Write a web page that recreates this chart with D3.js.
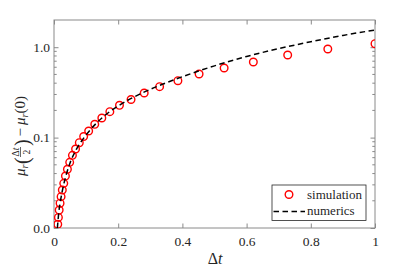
<!DOCTYPE html>
<html>
<head>
<meta charset="utf-8">
<script src="https://cdn.jsdelivr.net/npm/d3@7"></script>
<style>
  body { margin: 0; background: #fff; }
  svg text { fill: #262626; }
</style>
</head>
<body>
<div id="container"></div>
<script>
// data
let simT = [0.0117, 0.0137, 0.0161, 0.0189, 0.0221, 0.0259, 0.0304, 0.0356, 0.0418, 0.0489,
  0.0574, 0.0672, 0.0788, 0.0924, 0.108, 0.127, 0.149, 0.174, 0.204, 0.240,
  0.281, 0.329, 0.386, 0.452, 0.530, 0.621, 0.728, 0.853, 1.0];
let simValues = [0.0110, 0.0131, 0.0158, 0.0188, 0.0222, 0.0263, 0.0312, 0.0376, 0.0446, 0.0533,
  0.0637, 0.0748, 0.0878, 0.1029, 0.1183, 0.1404, 0.1648, 0.1935, 0.2277, 0.2640,
  0.3115, 0.3658, 0.4260, 0.5054, 0.5888, 0.6860, 0.8202, 0.9554, 1.0935];

let numT = [0.0105, 0.015, 0.02, 0.03, 0.04, 0.05, 0.07, 0.1, 0.15, 0.2, 0.25,
  0.3, 0.35, 0.4, 0.45, 0.5, 0.55, 0.6, 0.7, 0.8, 0.9, 1.0];
let numValues = [0.0100, 0.0150, 0.0198, 0.0300, 0.0410, 0.0525, 0.0745, 0.107, 0.166, 0.224, 0.282,
  0.342, 0.405, 0.472, 0.545, 0.622, 0.705, 0.790, 0.965, 1.15, 1.35, 1.55];

let xTicks = [0, 0.2, 0.4, 0.6, 0.8, 1];
let xTickLabels = ["0", "0.2", "0.4", "0.6", "0.8", "1"];
let yTicks = [0.01, 0.1, 1];
let yTickLabels = ["0.0", "0.1", "1.0"];
let yMinorTicks = [0.02, 0.03, 0.04, 0.05, 0.06, 0.07, 0.08, 0.09,
  0.2, 0.3, 0.4, 0.5, 0.6, 0.7, 0.8, 0.9];
let legendNames = ["simulation", "numerics"];

// layout
let w = 415;
let h = 270;
let padLeft = 54, padRight = 375, padTop = 20, padBottom = 228;
let axisColor = "#8a8a8a";
let serif = "Liberation Serif";

let viz = d3.select("#container")
  .append("svg")
    .attr("width", w)
    .attr("height", h)
    .style("display", "block")
;

let xScale = d3.scaleLinear().domain([0, 1]).range([padLeft, padRight]);
let yScale = d3.scaleLog().domain([0.01, 2]).range([padBottom, padTop]);

// clip for the data
viz.append("clipPath").attr("id", "plotclip")
  .append("rect")
    .attr("x", padLeft).attr("y", padTop)
    .attr("width", padRight - padLeft).attr("height", padBottom - padTop);

// axes (ticks point inward)
let xAxisGroup = viz.append("g").attr("transform", "translate(0," + padBottom + ")");
xAxisGroup.call(d3.axisBottom(xScale).tickValues(xTicks)
  .tickFormat(function(d, i){ return xTickLabels[i]; })
  .tickSizeInner(-4.5).tickSizeOuter(0).tickPadding(0));
let xTopGroup = viz.append("g").attr("transform", "translate(0," + padTop + ")");
xTopGroup.call(d3.axisTop(xScale).tickValues(xTicks).tickFormat("")
  .tickSizeInner(-4.5).tickSizeOuter(0));

let yAxisGroup = viz.append("g").attr("transform", "translate(" + padLeft + ",0)");
yAxisGroup.call(d3.axisLeft(yScale).tickValues(yTicks)
  .tickFormat(function(d, i){ return yTickLabels[i]; })
  .tickSizeInner(-4.5).tickSizeOuter(0).tickPadding(0));
let yRightGroup = viz.append("g").attr("transform", "translate(" + padRight + ",0)");
yRightGroup.call(d3.axisRight(yScale).tickValues(yTicks).tickFormat("")
  .tickSizeInner(-4.5).tickSizeOuter(0));

// minor y ticks on both sides
yAxisGroup.selectAll(".minor").data(yMinorTicks).enter()
  .append("line").attr("class", "minor")
    .attr("x1", 0).attr("x2", 2.7)
    .attr("y1", function(d){ return yScale(d); })
    .attr("y2", function(d){ return yScale(d); });
yRightGroup.selectAll(".minor").data(yMinorTicks).enter()
  .append("line").attr("class", "minor")
    .attr("x1", 0).attr("x2", -2.7)
    .attr("y1", function(d){ return yScale(d); })
    .attr("y2", function(d){ return yScale(d); });

viz.selectAll(".domain").remove();
viz.selectAll(".tick line, line.minor").attr("stroke", axisColor).attr("stroke-width", 1);
viz.selectAll("g").attr("font-family", serif);

xAxisGroup.selectAll("text")
  .attr("y", 18).attr("dy", 0)
  .attr("font-size", 13.5).attr("fill", "#262626");
yAxisGroup.selectAll("text")
  .attr("x", -4).attr("dy", "0.32em")
  .attr("font-size", 13.5).attr("fill", "#262626");

// box
viz.append("rect")
  .attr("x", padLeft).attr("y", padTop)
  .attr("width", padRight - padLeft).attr("height", padBottom - padTop)
  .attr("fill", "none").attr("stroke", axisColor).attr("stroke-width", 1);

// simulation circles
let simData = simT.map(function(t, i){ return { t: t, v: simValues[i] }; });
let numData = numT.map(function(t, i){ return { t: t, v: numValues[i] }; });

let graphgroup = viz.append("g").attr("clip-path", "url(#plotclip)");
graphgroup.selectAll(".datapoint").data(simData).enter()
  .append("circle")
    .attr("class", "datapoint")
    .attr("cx", function(d){ return xScale(d.t); })
    .attr("cy", function(d){ return yScale(d.v); })
    .attr("r", 3.8)
    .attr("fill", "none")
    .attr("stroke", "#ff0000")
    .attr("stroke-width", 1.4)
;

// numerics line
let line = d3.line()
  .x(function(d){ return xScale(d.t); })
  .y(function(d){ return yScale(d.v); })
  .curve(d3.curveMonotoneX);
graphgroup.append("path")
  .datum(numData)
  .attr("d", line)
  .attr("fill", "none")
  .attr("stroke", "#000")
  .attr("stroke-width", 1.5)
  .attr("stroke-dasharray", "5.5,3.5")
;

// x label
let xLabel = viz.append("text")
  .attr("x", 215).attr("y", 264)
  .attr("text-anchor", "middle")
  .attr("font-family", serif)
  .attr("font-size", 16);
xLabel.append("tspan").text("Δ");
xLabel.append("tspan").attr("font-style", "italic").text("t");

// y label: mu_r(dt/2) - mu_r(0)
let yl = viz.append("g").attr("transform", "translate(25,139) rotate(-90)").attr("font-family", serif);
yl.append("text").attr("x", -37).attr("y", 0).attr("font-size", 15).attr("font-style", "italic").text("μ");
yl.append("text").attr("x", -29.5).attr("y", 3).attr("font-size", 10).attr("font-style", "italic").text("r");
yl.append("text").attr("x", -25).attr("y", 4).attr("font-size", 20).text("(");
let frac = yl.append("text").attr("x", -13).attr("y", -6.5).attr("font-size", 9.5).attr("text-anchor", "middle");
frac.append("tspan").text("Δ");
frac.append("tspan").attr("font-style", "italic").text("t");
yl.append("line").attr("x1", -18).attr("x2", -8).attr("y1", -4.5).attr("y2", -4.5)
  .attr("stroke", "#262626").attr("stroke-width", 0.7);
yl.append("text").attr("x", -13).attr("y", 4.5).attr("font-size", 9.5).attr("text-anchor", "middle").text("2");
yl.append("text").attr("x", -7).attr("y", 4).attr("font-size", 20).text(")");
yl.append("text").attr("x", 2.5).attr("y", 0).attr("font-size", 15).text("−");
yl.append("text").attr("x", 14).attr("y", 0).attr("font-size", 15).attr("font-style", "italic").text("μ");
yl.append("text").attr("x", 21.5).attr("y", 3).attr("font-size", 10).attr("font-style", "italic").text("r");
yl.append("text").attr("x", 25.5).attr("y", 0).attr("font-size", 15).text("(0)");

// legend
let legend = viz.append("g").attr("font-family", serif);
legend.append("rect")
  .attr("x", 272).attr("y", 185).attr("width", 94).attr("height", 35.5)
  .attr("fill", "#fff").attr("stroke", "#262626").attr("stroke-width", 0.8);
legend.append("circle")
  .attr("cx", 289).attr("cy", 194.5).attr("r", 3.8)
  .attr("fill", "none").attr("stroke", "#ff0000").attr("stroke-width", 1.4);
legend.append("line")
  .attr("x1", 273.5).attr("x2", 305).attr("y1", 211.5).attr("y2", 211.5)
  .attr("stroke", "#000").attr("stroke-width", 1.5).attr("stroke-dasharray", "5.5,3.5");
legend.selectAll(".legtext").data(legendNames).enter()
  .append("text").attr("class", "legtext")
    .attr("x", 307)
    .attr("y", function(d, i){ return 198.5 + i * 16.5; })
    .attr("font-size", 13)
    .text(function(d){ return d; });
</script>
</body>
</html>
